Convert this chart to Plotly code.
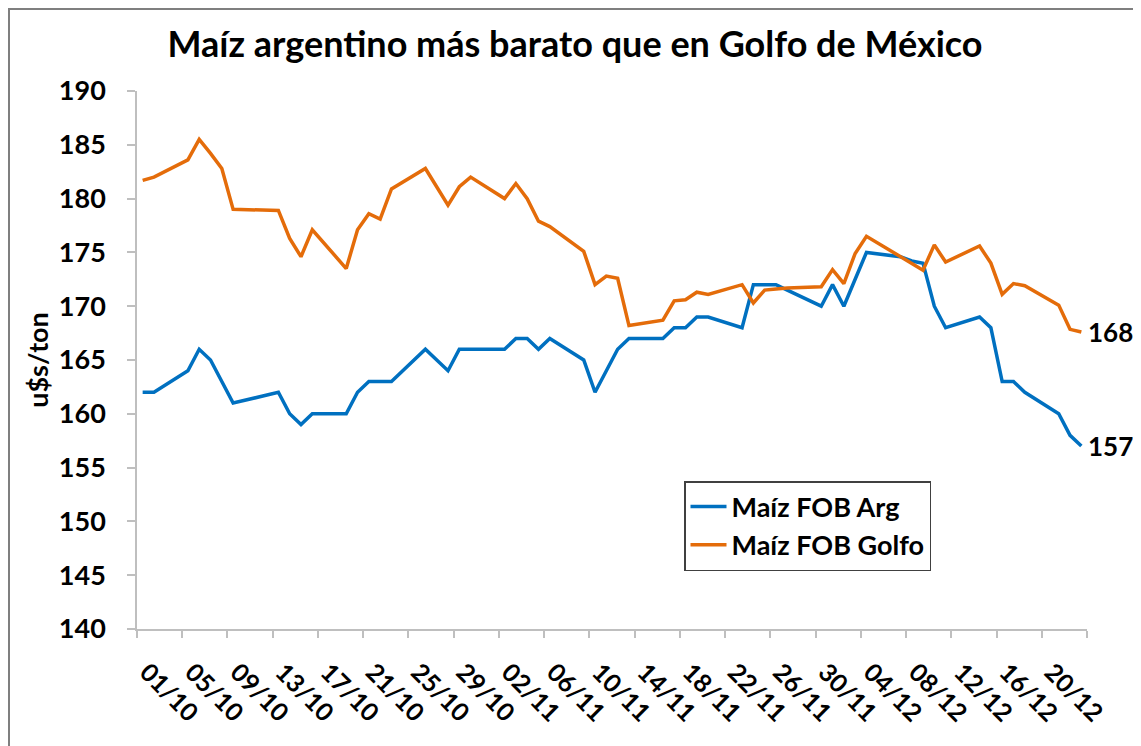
import plotly.graph_objects as go
import pandas as pd

# ---- data ----
dates = [
    "2015-10-01", "2015-10-02", "2015-10-05", "2015-10-06", "2015-10-07", "2015-10-08", "2015-10-09",
    "2015-10-13", "2015-10-14", "2015-10-15", "2015-10-16",
    "2015-10-19", "2015-10-20", "2015-10-21", "2015-10-22", "2015-10-23",
    "2015-10-26", "2015-10-27", "2015-10-28", "2015-10-29", "2015-10-30",
    "2015-11-02", "2015-11-03", "2015-11-04", "2015-11-05", "2015-11-06",
    "2015-11-09", "2015-11-10", "2015-11-11", "2015-11-12", "2015-11-13",
    "2015-11-16", "2015-11-17", "2015-11-18", "2015-11-19", "2015-11-20",
    "2015-11-23", "2015-11-24", "2015-11-25", "2015-11-26", "2015-11-27",
    "2015-11-30", "2015-12-01", "2015-12-02", "2015-12-03", "2015-12-04",
    "2015-12-07", "2015-12-08", "2015-12-09", "2015-12-10", "2015-12-11",
    "2015-12-14", "2015-12-15", "2015-12-16", "2015-12-17", "2015-12-18",
    "2015-12-21", "2015-12-22", "2015-12-23",
]

fob_arg = [
    162, 162, 164, 166, 165, 163, 161,
    162, 160, 159, 160,
    160, 162, 163, 163, 163,
    166, 165, 164, 166, 166,
    166, 167, 167, 166, 167,
    165, 162, 164, 166, 167,
    167, 168, 168, 169, 169,
    168, 172, 172, 172, 171.5,
    170, 172, 170, 172.5, 175,
    174.6, 174.2, 174, 170, 168,
    169, 168, 163, 163, 162,
    160, 158, 157,
]

fob_golfo = [
    181.7, 182.0, 183.6, 185.5, 184.2, 182.8, 179.0,
    178.9, 176.3, 174.6, 177.1,
    173.5, 177.1, 178.6, 178.1, 180.9,
    182.8, 181.1, 179.4, 181.1, 182.0,
    180.0, 181.4, 180.0, 177.9, 177.4,
    175.1, 172.0, 172.8, 172.6, 168.2,
    168.7, 170.5, 170.6, 171.3, 171.1,
    172.0, 170.3, 171.5, 171.6, 171.7,
    171.8, 173.4, 172.1, 174.9, 176.5,
    174.6, 174.0, 173.35, 175.7, 174.1,
    175.6, 174.0, 171.1, 172.1, 171.9,
    170.1, 167.85, 167.6,
]

series_names = ["Maíz FOB Arg", "Maíz FOB Golfo"]
tick_labels = ["01/10", "05/10", "09/10", "13/10", "17/10", "21/10", "25/10", "29/10",
               "02/11", "06/11", "10/11", "14/11", "18/11", "22/11", "26/11", "30/11",
               "04/12", "08/12", "12/12", "16/12", "20/12", ""]
y_ticks = [140, 145, 150, 155, 160, 165, 170, 175, 180, 185, 190]

title_text = "Maíz argentino más barato que en Golfo de México"
y_title = "u$s/ton"

# ---- styling ----
BLUE = "#0070C0"
ORANGE = "#E46C0A"
AXIS = "#BFBFBF"
FONT = "Lato"
DAY_MS = 86400000

tick_dates = pd.date_range("2015-10-01", periods=len(tick_labels), freq="4D")

fig = go.Figure()
for name, vals, col in [(series_names[0], fob_arg, BLUE), (series_names[1], fob_golfo, ORANGE)]:
    fig.add_trace(go.Scatter(
        x=dates, y=vals, name=name, mode="lines",
        line=dict(color=col, width=3.5),
        xperiod=DAY_MS, xperiodalignment="middle",
    ))
    fig.add_annotation(
        x=dates[-1], y=vals[-1], text=f"{round(vals[-1])}",
        xref="x", yref="y", xanchor="left", yanchor="middle",
        xshift=10, showarrow=False,
        font=dict(family=FONT, size=26, color="black", weight="bold"),
    )

W, H = 1133, 738
L, T, PW, PH = 129, 83, 950, 538

fig.update_layout(
    width=W, height=H,
    margin=dict(l=L, r=W - L - PW, t=T, b=H - T - PH),
    paper_bgcolor="white", plot_bgcolor="white",
    font=dict(family=FONT, color="black", weight="bold"),
    title=dict(text=title_text, x=(575 - 8 - L) / PW, xref="paper", xanchor="center",
               y=0.951, yanchor="middle",
               font=dict(family=FONT, size=36, color="black", weight="bold")),
    showlegend=True,
    legend=dict(x=(676 - L) / PW, y=(T + PH - 473) / PH, xanchor="left", yanchor="top",
                bordercolor="#404040", borderwidth=1.5, bgcolor="white",
                font=dict(family=FONT, size=27, color="black", weight="bold"),
                itemwidth=36, tracegroupgap=0),
    shapes=[dict(type="rect", xref="paper", yref="paper",
                 x0=(1 - L) / PW, x1=(W + 20 - L) / PW,
                 y0=-(H - T - PH + 20) / PH, y1=(T + PH - 1) / PH,
                 line=dict(color="#7F7F7F", width=2), fillcolor="rgba(0,0,0,0)", layer="below")],
)

fig.update_xaxes(
    type="date", range=["2015-10-01", "2015-12-24"],
    tickmode="array", tickvals=tick_dates, ticktext=tick_labels,
    tickangle=45, ticks="outside", ticklen=7, tickcolor=AXIS, tickwidth=1.5,
    showline=True, linecolor=AXIS, linewidth=1.5, showgrid=False, zeroline=False,
    tickfont=dict(family=FONT, size=25, color="black", weight="bold"),
    ticklabelstandoff=10, ticklabelshift=10,
)
fig.update_yaxes(
    range=[140, 190], tickmode="array", tickvals=y_ticks,
    ticks="outside", ticklen=8, tickcolor=AXIS, tickwidth=1.5,
    showline=True, linecolor=AXIS, linewidth=1.5, showgrid=False, zeroline=False,
    tickfont=dict(family=FONT, size=27, color="black", weight="bold"),
    ticklabelstandoff=16,
    title=dict(text=y_title, font=dict(family=FONT, size=27, color="black", weight="bold"), standoff=2),
)

fig.write_html("out.html")
